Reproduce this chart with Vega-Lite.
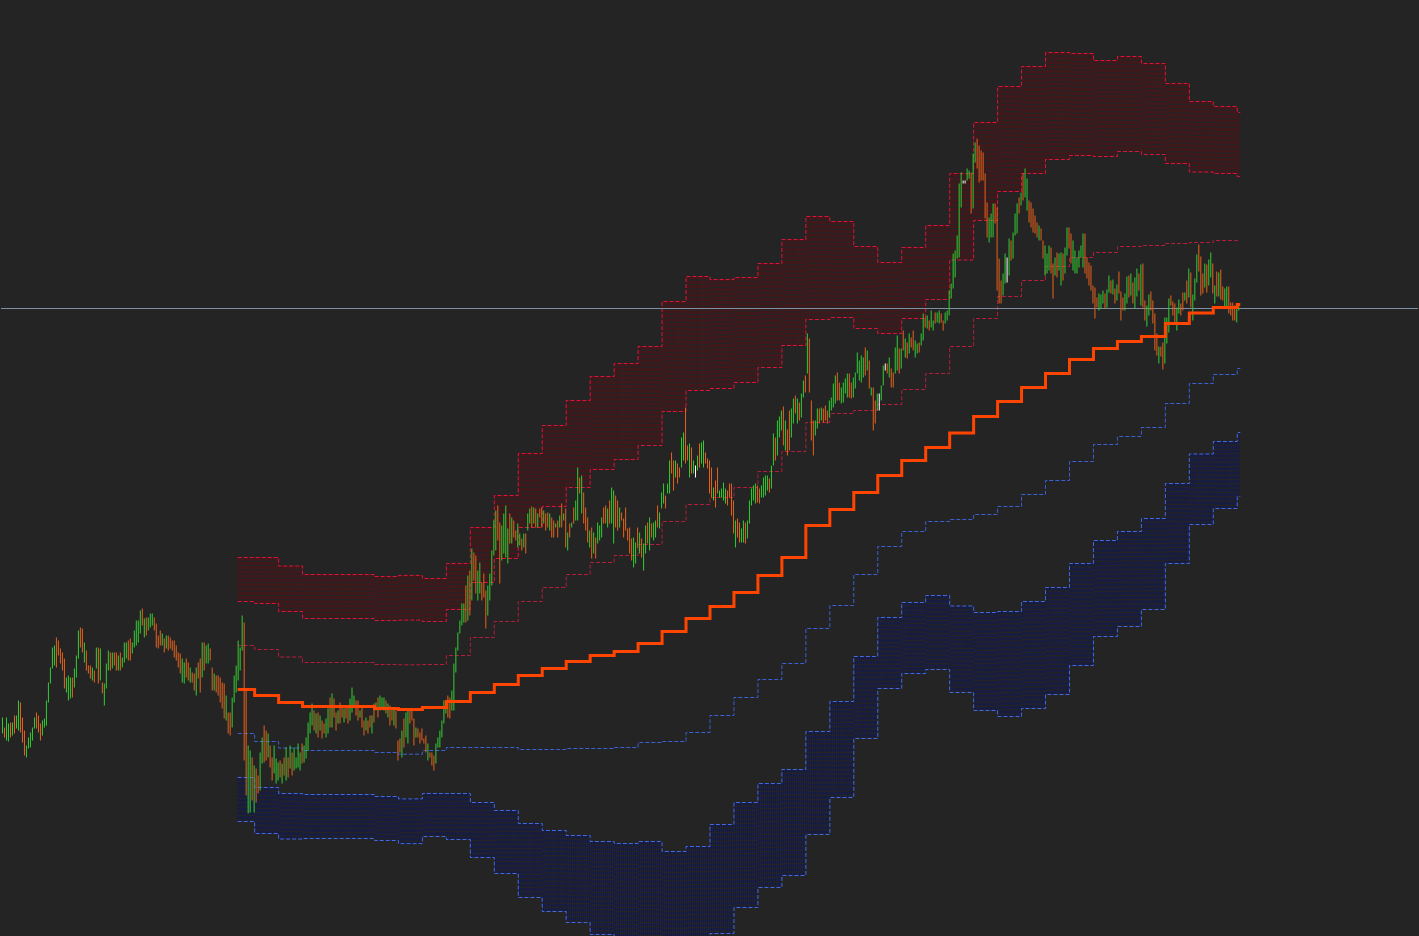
{
"$schema": "https://vega.github.io/schema/vega-lite/v6.json",
"width": 1419, "height": 936,
"autosize": {"type": "fit", "contains": "padding"},
"padding": 0,
"background": "#242424",
"config": {"view": {"stroke": null}},
"resolve": {"scale": {"color": "independent"}},
"datasets": {
"bars": "i,h,l,d,p\n0,219,203,u,\n1,209,199,d,\n2,219,196,u,\n3,213,195,u,\n4,214,199,d,\n5,214,201,u,\n6,221,203,d,\n7,221,208,u,\n8,236,206,u,\n9,234,204,d,\n10,219,194,d,\n11,206,181,d,\n12,191,179,u,\n13,199,188,u,\n14,204,189,u,\n15,209,196,u,\n16,219,208,u,\n17,224,208,d,\n18,221,204,d,\n19,213,196,d,\n20,216,201,u,\n21,218,209,u,\n22,236,211,u,\n23,254,234,u,\n24,269,253,u,\n25,289,268,u,\n26,291,271,u,\n27,299,269,d,\n28,296,281,d,\n29,288,273,d,\n30,284,266,d,\n31,278,248,d,\n32,259,244,u,\n33,261,236,u,\n34,259,238,u,\n35,259,239,d,\n36,268,249,u,\n37,281,259,u,\n38,306,278,u,\n39,309,289,d,\n40,308,284,d,\n41,294,274,u,\n42,286,266,d,\n43,271,263,d,\n44,271,258,d,\n45,269,256,u,\n46,266,254,d,\n47,289,268,u,\n48,289,253,d,\n49,288,256,u,\n50,254,243,d,\n51,253,231,u,\n52,273,248,u,\n53,286,266,u,\n54,284,266,d,\n55,284,268,u,\n56,284,271,d,\n57,284,266,d,\n58,281,266,u,\n59,284,266,d,\n60,279,269,u,\n61,294,274,u,\n62,294,278,u,\n63,296,276,d,\n64,298,276,d,\n65,294,283,u,\n66,306,289,u,\n67,316,291,u,\n68,316,294,u,\n69,326,303,u,\n70,328,311,d,\n71,318,299,u,\n72,319,301,d,\n73,319,306,u,\n74,323,309,u,\n75,323,311,u,\n76,319,306,d,\n77,313,289,d,\n78,301,288,d,\n79,306,291,d,\n80,303,291,u,\n81,298,284,d,\n82,301,288,u,\n83,301,286,d,\n84,299,288,d,\n85,296,286,d,\n86,296,279,d,\n87,291,276,d,\n88,284,269,d,\n89,283,263,d,\n90,278,254,u,\n91,274,253,u,\n92,278,259,d,\n93,274,256,d,\n94,269,254,u,\n95,264,254,d,\n96,263,246,d,\n97,269,241,u,\n98,274,258,d,\n99,278,244,d,\n100,294,259,u,\n101,294,266,d,\n102,291,273,u,\n103,293,273,u,\n104,288,276,d,\n105,269,246,d,\n106,263,246,u,\n107,261,244,d,\n108,261,241,d,\n109,259,234,d,\n110,254,228,d,\n111,253,218,d,\n112,241,216,u,\n113,224,203,d,\n114,224,201,d,\n115,239,209,u,\n116,261,234,u,\n117,271,244,u,\n118,296,256,u,1\n119,289,266,u,1\n120,321,286,u,1\n121,314,176,d,1\n122,246,141,d,1\n123,191,123,u,1\n124,186,124,u,1\n125,179,136,d,1\n126,171,124,u,1\n127,168,134,d,2\n128,161,143,d,2\n129,184,146,u,2\n130,199,173,u,2\n131,211,174,d,2\n132,206,176,d,2\n133,203,179,u,2\n134,191,169,d,2\n135,179,156,d,2\n136,191,163,u,2\n137,178,153,u,2\n138,174,156,u,2\n139,176,159,d,3\n140,173,153,u,3\n141,179,161,d,3\n142,189,156,u,3\n143,179,159,d,3\n144,191,168,u,3\n145,184,161,d,3\n146,189,166,u,3\n147,179,168,u,3\n148,193,169,u,3\n149,184,166,u,3\n150,193,173,d,3\n151,191,174,u,4\n152,199,178,u,4\n153,214,186,u,4\n154,224,203,u,4\n155,233,211,u,4\n156,226,206,d,4\n157,223,203,u,4\n158,224,199,d,4\n159,221,206,u,4\n160,216,198,d,4\n161,213,203,d,4\n162,218,199,u,4\n163,228,203,u,5\n164,239,209,d,5\n165,243,209,u,5\n166,238,219,d,5\n167,224,206,d,5\n168,226,213,u,5\n169,234,213,d,5\n170,229,219,d,5\n171,228,214,u,5\n172,231,218,d,5\n173,231,213,d,5\n174,238,216,u,5\n175,249,224,u,6\n176,241,229,u,6\n177,236,221,d,6\n178,236,216,d,6\n179,226,219,u,6\n180,229,209,d,6\n181,216,201,d,6\n182,219,206,u,6\n183,216,203,d,6\n184,221,209,d,6\n185,221,203,u,6\n186,233,214,d,6\n187,234,226,u,7\n188,239,219,d,7\n189,241,226,u,7\n190,239,229,u,7\n191,239,226,u,7\n192,236,223,d,7\n193,233,219,u,7\n194,231,211,d,7\n195,229,216,d,7\n196,229,211,u,7\n197,226,208,d,7\n198,196,176,d,7\n199,198,184,d,8\n200,206,179,u,8\n201,218,189,d,8\n202,224,199,u,8\n203,228,193,u,8\n204,226,213,d,8\n205,226,216,d,8\n206,218,191,d,8\n207,209,199,u,8\n208,208,199,d,8\n209,204,193,d,8\n210,208,196,d,8\n211,198,193,d,9\n212,201,184,d,9\n213,193,176,u,9\n214,184,179,d,9\n215,184,171,d,9\n216,181,166,d,9\n217,193,173,u,9\n218,199,189,u,9\n219,206,189,u,9\n220,216,199,u,9\n221,236,213,u,9\n222,234,223,u,9\n223,241,219,d,10\n224,239,218,d,10\n225,246,226,u,10\n226,273,226,u,10\n227,289,264,u,10\n228,304,286,u,10\n229,316,303,u,10\n230,333,311,u,10\n231,333,314,u,10\n232,351,314,d,10\n233,361,316,u,10\n234,366,321,d,10\n235,388,336,u,11\n236,384,356,d,11\n237,381,343,d,11\n238,366,336,u,11\n239,374,343,u,11\n240,354,336,d,11\n241,363,339,d,11\n242,346,308,d,11\n243,351,321,u,11\n244,363,336,u,11\n245,386,351,u,11\n246,416,381,u,11\n247,426,386,u,12\n248,431,396,d,12\n249,414,353,d,12\n250,411,376,u,12\n251,423,383,u,12\n252,431,379,u,12\n253,408,373,u,12\n254,423,393,d,12\n255,419,393,u,12\n256,416,399,d,12\n257,406,396,d,12\n258,413,389,u,12\n259,403,391,u,13\n260,398,386,d,13\n261,403,389,u,13\n262,403,383,d,13\n263,423,406,u,13\n264,428,413,u,13\n265,430,409,d,13\n266,429,413,u,13\n267,428,409,d,13\n268,423,409,u,13\n269,428,419,d,13\n270,429,409,d,13\n271,426,413,u,14\n272,423,406,d,14\n273,424,409,d,14\n274,423,406,u,14\n275,419,399,d,14\n276,416,399,d,14\n277,413,409,u,14\n278,416,399,d,14\n279,421,409,u,14\n280,433,409,d,14\n281,423,416,u,14\n282,428,389,d,14\n283,404,386,u,15\n284,413,399,d,15\n285,414,409,u,15\n286,429,413,d,15\n287,436,416,u,15\n288,469,416,u,15\n289,459,443,d,15\n290,461,423,u,15\n291,444,413,d,15\n292,429,406,d,15\n293,419,394,d,15\n294,406,389,u,15\n295,409,378,d,16\n296,404,383,u,16\n297,399,378,d,16\n298,414,393,u,16\n299,411,396,u,16\n300,419,399,u,16\n301,429,413,d,16\n302,431,413,d,16\n303,428,409,u,16\n304,436,413,d,16\n305,449,413,u,16\n306,446,393,u,16\n307,441,409,d,17\n308,436,406,d,17\n309,429,409,u,17\n310,424,416,d,17\n311,418,399,d,17\n312,429,406,d,17\n313,408,396,d,17\n314,409,383,d,17\n315,398,376,d,17\n316,399,369,u,17\n317,394,373,u,17\n318,409,389,d,17\n319,404,383,u,18\n320,398,379,d,18\n321,393,366,u,18\n322,411,383,u,18\n323,414,393,d,18\n324,419,386,u,18\n325,413,399,d,18\n326,414,396,u,18\n327,416,399,u,18\n328,431,409,d,18\n329,424,408,u,18\n330,444,428,u,18\n331,453,433,u,19\n332,441,428,d,19\n333,453,443,u,19\n334,476,443,u,19\n335,484,463,d,19\n336,476,446,d,19\n337,476,459,u,19\n338,473,453,d,19\n339,469,459,d,19\n340,499,469,u,19\n341,504,476,u,19\n342,529,473,d,19\n343,491,476,d,20\n344,493,459,u,20\n345,489,463,d,20\n346,476,463,u,20\n347,471,459,n,20\n348,481,466,u,20\n349,493,469,d,20\n350,494,473,u,20\n351,496,469,u,20\n352,484,473,d,20\n353,478,468,d,20\n354,476,443,d,20\n355,469,439,d,21\n356,449,436,u,21\n357,456,429,d,21\n358,469,443,d,21\n359,446,439,u,21\n360,448,439,u,21\n361,454,436,u,21\n362,448,433,u,21\n363,446,431,d,21\n364,453,439,d,21\n365,453,421,d,21\n366,436,403,d,21\n367,416,389,u,22\n368,418,399,d,22\n369,414,394,d,22\n370,408,394,u,22\n371,416,394,u,22\n372,414,393,d,22\n373,416,398,u,22\n374,436,413,u,22\n375,448,431,u,22\n376,451,436,u,22\n377,453,433,u,22\n378,451,434,d,22\n379,448,433,d,23\n380,451,439,u,23\n381,459,439,u,23\n382,461,441,u,23\n383,461,446,u,23\n384,458,444,d,23\n385,471,448,u,23\n386,503,471,u,23\n387,499,476,d,23\n388,516,481,u,23\n389,520,499,u,23\n390,526,506,u,23\n391,530,491,d,24\n392,516,486,u,24\n393,507,481,d,24\n394,526,486,d,24\n395,528,499,u,24\n396,538,513,u,24\n397,541,523,d,24\n398,538,513,u,24\n399,534,516,d,24\n400,543,519,u,24\n401,556,539,u,24\n402,561,544,d,24\n403,603,563,u,25\n404,598,544,d,25\n405,536,496,d,25\n406,516,481,d,25\n407,516,501,u,25\n408,528,508,u,25\n409,528,513,d,25\n410,529,516,u,25\n411,528,514,d,25\n412,531,516,d,25\n413,526,513,d,25\n414,536,519,u,25\n415,539,526,u,26\n416,553,529,u,26\n417,561,533,u,26\n418,564,536,d,26\n419,554,536,d,26\n420,549,533,u,26\n421,554,534,u,26\n422,558,543,u,26\n423,563,539,u,26\n424,563,539,d,26\n425,554,538,d,26\n426,559,539,u,26\n427,564,548,u,27\n428,584,563,u,27\n429,576,556,u,27\n430,581,554,u,27\n431,579,559,u,27\n432,589,561,d,27\n433,586,566,u,27\n434,576,548,d,27\n435,549,541,u,27\n436,549,506,d,27\n437,536,513,d,27\n438,543,526,u,27\n439,543,526,n,28\n440,551,536,u,28\n441,571,551,u,28\n442,573,566,n,28\n443,573,563,d,28\n444,579,559,u,28\n445,568,549,d,28\n446,564,549,d,28\n447,589,563,u,28\n448,601,566,u,28\n449,588,563,d,28\n450,588,568,u,28\n451,606,586,d,29\n452,598,579,u,29\n453,594,578,d,29\n454,603,583,u,29\n455,599,589,d,29\n456,606,586,d,29\n457,596,579,u,29\n458,593,583,u,29\n459,594,584,d,29\n460,603,591,u,29\n461,623,596,u,29\n462,619,609,d,29\n463,621,608,u,30\n464,616,606,d,30\n465,626,609,u,30\n466,616,606,u,30\n467,624,613,d,30\n468,624,614,u,30\n469,626,613,u,30\n470,623,614,d,30\n471,616,606,d,30\n472,624,613,u,30\n473,626,616,u,30\n474,646,621,u,30\n475,653,638,u,31\n476,683,648,u,31\n477,686,659,u,31\n478,701,678,u,31\n479,753,679,u,31\n480,764,729,u,31\n481,756,753,n,31\n482,756,753,n,31\n483,768,756,u,31\n484,766,758,u,31\n485,764,723,d,31\n486,783,728,u,31\n487,794,774,u,32\n488,798,768,d,32\n489,791,754,d,32\n490,786,756,d,32\n491,784,756,d,32\n492,763,718,d,32\n493,734,699,d,32\n494,719,694,u,32\n495,723,699,u,32\n496,733,699,u,32\n497,733,713,d,32\n498,729,646,d,32\n499,678,633,d,33\n500,656,633,d,33\n501,663,641,u,33\n502,683,653,u,33\n503,679,654,n,33\n504,698,661,u,33\n505,696,676,d,33\n506,704,678,u,33\n507,723,701,u,33\n508,733,703,u,33\n509,739,723,d,33\n510,744,731,u,33\n511,763,736,d,34\n512,768,739,u,34\n513,758,726,u,34\n514,736,714,d,34\n515,734,709,d,34\n516,728,704,d,34\n517,721,703,d,34\n518,714,699,d,34\n519,711,696,u,34\n520,708,696,d,34\n521,696,678,d,34\n522,691,661,u,34\n523,683,663,u,35\n524,691,666,u,35\n525,689,663,d,35\n526,673,638,d,35\n527,679,661,u,35\n528,684,659,d,35\n529,683,666,u,35\n530,684,651,u,35\n531,683,656,d,35\n532,689,663,u,35\n533,709,681,u,35\n534,709,688,d,35\n535,703,673,d,36\n536,696,666,u,36\n537,686,663,u,36\n538,679,663,u,36\n539,686,669,u,36\n540,691,679,u,36\n541,703,669,u,36\n542,703,663,d,36\n543,679,658,d,36\n544,674,651,d,36\n545,671,646,d,36\n546,651,633,d,36\n547,649,618,d,37\n548,639,629,d,37\n549,643,626,u,37\n550,642,628,u,37\n551,646,633,u,37\n552,643,628,d,37\n553,647,629,u,37\n554,661,644,u,37\n555,656,643,d,37\n556,657,642,u,37\n557,648,633,d,37\n558,652,636,u,37\n559,665,643,d,38\n560,645,616,d,38\n561,639,626,d,38\n562,643,626,u,38\n563,660,633,u,38\n564,661,639,d,38\n565,663,641,u,38\n566,654,633,d,38\n567,659,628,u,38\n568,668,640,u,38\n569,663,646,d,38\n570,672,631,u,38\n571,673,629,d,39\n572,636,616,d,39\n573,631,610,u,39\n574,642,621,u,39\n575,645,626,d,39\n576,636,613,d,39\n577,623,586,d,39\n578,603,581,d,39\n579,590,573,u,39\n580,590,580,d,39\n581,594,567,d,39\n582,619,573,u,39\n583,619,593,u,40\n584,638,604,u,40\n585,641,631,d,40\n586,635,621,d,40\n587,633,614,d,40\n588,629,606,u,40\n589,637,623,u,40\n590,633,621,d,40\n591,644,626,d,40\n592,644,636,u,40\n593,656,633,d,40\n594,668,639,u,40\n595,664,629,d,41\n596,642,616,u,41\n597,658,636,u,41\n598,682,654,u,41\n599,692,665,d,41\n600,680,641,d,41\n601,663,643,d,41\n602,673,649,u,41\n603,672,644,d,41\n604,677,651,u,41\n605,684,659,u,41\n606,673,643,d,41\n607,651,633,u,42\n608,665,640,d,42\n609,664,640,u,42\n610,667,637,d,42\n611,650,636,d,42\n612,648,629,u,42\n613,650,629,u,42\n614,650,623,d,42\n615,634,621,d,42\n616,634,616,d,42\n617,631,616,d,42\n618,631,614,u,42\n619,630,626,u,43",
"bands": [
{"p":1,"s":117.75,"c":247,"u1":291,"u2":335,"u3":379,"l1":203,"l2":159,"l3":115},
{"p":2,"s":126.25,"c":241,"u1":287,"u2":333,"u3":379,"l1":195,"l2":149,"l3":103},
{"p":3,"s":138.25,"c":234,"u1":279.5,"u2":325,"u3":370.5,"l1":188.5,"l2":143,"l3":97.5},
{"p":4,"s":150.25,"c":230,"u1":274,"u2":318,"u3":362,"l1":186,"l2":142,"l3":98},
{"p":5,"s":162.25,"c":230,"u1":274,"u2":318,"u3":362,"l1":186,"l2":142,"l3":98},
{"p":6,"s":174.25,"c":230,"u1":274,"u2":318,"u3":362,"l1":186,"l2":142,"l3":98},
{"p":7,"s":186.25,"c":228,"u1":272,"u2":316,"u3":360,"l1":184,"l2":140,"l3":96},
{"p":8,"s":198.25,"c":227,"u1":271.7,"u2":316.4,"u3":361.1,"l1":182.3,"l2":137.6,"l3":92.9},
{"p":9,"s":210.25,"c":229,"u1":272,"u2":315,"u3":358,"l1":186,"l2":143,"l3":100},
{"p":10,"s":222.25,"c":235,"u1":281,"u2":327,"u3":373,"l1":189,"l2":143,"l3":97},
{"p":11,"s":234.25,"c":244,"u1":299,"u2":354,"u3":409,"l1":189,"l2":134,"l3":79},
{"p":12,"s":246.25,"c":252,"u1":315,"u2":378,"u3":441,"l1":189,"l2":126,"l3":63},
{"p":13,"s":258.25,"c":261,"u1":335,"u2":409,"u3":483,"l1":187,"l2":113,"l3":39},
{"p":14,"s":270.25,"c":268,"u1":349,"u2":430,"u3":511,"l1":187,"l2":106,"l3":25},
{"p":15,"s":282.25,"c":275,"u1":362,"u2":449,"u3":536,"l1":188,"l2":101,"l3":14},
{"p":16,"s":294.25,"c":281,"u1":374,"u2":467,"u3":560,"l1":188,"l2":95,"l3":2},
{"p":17,"s":306.25,"c":285,"u1":381,"u2":477,"u3":573,"l1":189,"l2":93,"l3":-3},
{"p":18,"s":318.25,"c":293,"u1":392,"u2":491,"u3":590,"l1":194,"l2":95,"l3":-4},
{"p":19,"s":330.25,"c":305,"u1":415,"u2":525,"u3":635,"l1":195,"l2":85,"l3":-25},
{"p":20,"s":342.25,"c":318,"u1":432,"u2":546,"u3":660,"l1":204,"l2":90,"l3":-24},
{"p":21,"s":354.25,"c":330,"u1":439,"u2":548,"u3":657,"l1":221,"l2":112,"l3":3},
{"p":22,"s":366.25,"c":344,"u1":449,"u2":554,"u3":659,"l1":239,"l2":134,"l3":29},
{"p":23,"s":378.25,"c":361,"u1":465,"u2":569,"u3":673,"l1":257,"l2":153,"l3":49},
{"p":24,"s":390.25,"c":379,"u1":485,"u2":591,"u3":697,"l1":273,"l2":167,"l3":61},
{"p":25,"s":402.25,"c":411,"u1":514,"u2":617,"u3":720,"l1":308,"l2":205,"l3":102},
{"p":26,"s":414.25,"c":427,"u1":523,"u2":619,"u3":715,"l1":331,"l2":235,"l3":139},
{"p":27,"s":426.25,"c":444,"u1":526,"u2":608,"u3":690,"l1":362,"l2":280,"l3":198},
{"p":28,"s":438.25,"c":461,"u1":532,"u2":603,"u3":674,"l1":390,"l2":319,"l3":248},
{"p":29,"s":450.25,"c":476,"u1":547,"u2":618,"u3":689,"l1":405,"l2":334,"l3":263},
{"p":30,"s":462.25,"c":489,"u1":563,"u2":637,"u3":711,"l1":415,"l2":341,"l3":267},
{"p":31,"s":474.25,"c":503.5,"u1":590,"u2":676.5,"u3":763,"l1":417,"l2":330.5,"l3":244},
{"p":32,"s":486.25,"c":520,"u1":618,"u2":716,"u3":814,"l1":422,"l2":324,"l3":226},
{"p":33,"s":498.25,"c":535,"u1":640,"u2":745,"u3":850,"l1":430,"l2":325,"l3":220},
{"p":34,"s":510.25,"c":549,"u1":656,"u2":763,"u3":870,"l1":442,"l2":335,"l3":228},
{"p":35,"s":522.25,"c":563,"u1":670,"u2":777,"u3":884,"l1":456,"l2":349,"l3":242},
{"p":36,"s":534.25,"c":577,"u1":679,"u2":781,"u3":883,"l1":475,"l2":373,"l3":271},
{"p":37,"s":546.25,"c":588,"u1":684,"u2":780,"u3":876,"l1":492,"l2":396,"l3":300},
{"p":38,"s":558.25,"c":595,"u1":690,"u2":785,"u3":880,"l1":500,"l2":405,"l3":310},
{"p":39,"s":570.25,"c":600,"u1":691,"u2":782,"u3":873,"l1":509,"l2":418,"l3":327},
{"p":40,"s":582.25,"c":613,"u1":693,"u2":773,"u3":853,"l1":533,"l2":453,"l3":373},
{"p":41,"s":594.25,"c":623.5,"u1":694,"u2":764.5,"u3":835,"l1":553,"l2":482.5,"l3":412},
{"p":42,"s":606.25,"c":629,"u1":696,"u2":763,"u3":830,"l1":562,"l2":495,"l3":428},
{"p":43,"s":618.25,"c":632,"u1":696,"u2":760,"u3":824,"l1":568,"l2":504,"l3":440},
{"p":44,"s":619.75,"c":632,"u1":696,"u2":760,"u3":824,"l1":568,"l2":504,"l3":440}
],
"last": [{"price": 628}]
},
"layer": [
{
"data": {"name": "bars", "format": {"type": "csv", "parse": {"i": "number", "h": "number", "l": "number", "p": "number"}}},
"transform": [
{"lookup": "p", "from": {"data": {"values": [
{"p":1,"u2":335,"u3":379,"l2":159,"l3":115},{"p":2,"u2":333,"u3":379,"l2":149,"l3":103},{"p":3,"u2":325,"u3":370.5,"l2":143,"l3":97.5},{"p":4,"u2":318,"u3":362,"l2":142,"l3":98},{"p":5,"u2":318,"u3":362,"l2":142,"l3":98},{"p":6,"u2":318,"u3":362,"l2":142,"l3":98},{"p":7,"u2":316,"u3":360,"l2":140,"l3":96},{"p":8,"u2":316.4,"u3":361.1,"l2":137.6,"l3":92.9},{"p":9,"u2":315,"u3":358,"l2":143,"l3":100},{"p":10,"u2":327,"u3":373,"l2":143,"l3":97},{"p":11,"u2":354,"u3":409,"l2":134,"l3":79},{"p":12,"u2":378,"u3":441,"l2":126,"l3":63},{"p":13,"u2":409,"u3":483,"l2":113,"l3":39},{"p":14,"u2":430,"u3":511,"l2":106,"l3":25},{"p":15,"u2":449,"u3":536,"l2":101,"l3":14},{"p":16,"u2":467,"u3":560,"l2":95,"l3":2},{"p":17,"u2":477,"u3":573,"l2":93,"l3":-3},{"p":18,"u2":491,"u3":590,"l2":95,"l3":-4},{"p":19,"u2":525,"u3":635,"l2":85,"l3":-25},{"p":20,"u2":546,"u3":660,"l2":90,"l3":-24},{"p":21,"u2":548,"u3":657,"l2":112,"l3":3},{"p":22,"u2":554,"u3":659,"l2":134,"l3":29},{"p":23,"u2":569,"u3":673,"l2":153,"l3":49},{"p":24,"u2":591,"u3":697,"l2":167,"l3":61},{"p":25,"u2":617,"u3":720,"l2":205,"l3":102},{"p":26,"u2":619,"u3":715,"l2":235,"l3":139},{"p":27,"u2":608,"u3":690,"l2":280,"l3":198},{"p":28,"u2":603,"u3":674,"l2":319,"l3":248},{"p":29,"u2":618,"u3":689,"l2":334,"l3":263},{"p":30,"u2":637,"u3":711,"l2":341,"l3":267},{"p":31,"u2":676.5,"u3":763,"l2":330.5,"l3":244},{"p":32,"u2":716,"u3":814,"l2":324,"l3":226},{"p":33,"u2":745,"u3":850,"l2":325,"l3":220},{"p":34,"u2":763,"u3":870,"l2":335,"l3":228},{"p":35,"u2":777,"u3":884,"l2":349,"l3":242},{"p":36,"u2":781,"u3":883,"l2":373,"l3":271},{"p":37,"u2":780,"u3":876,"l2":396,"l3":300},{"p":38,"u2":785,"u3":880,"l2":405,"l3":310},{"p":39,"u2":782,"u3":873,"l2":418,"l3":327},{"p":40,"u2":773,"u3":853,"l2":453,"l3":373},{"p":41,"u2":764.5,"u3":835,"l2":482.5,"l3":412},{"p":42,"u2":763,"u3":830,"l2":495,"l3":428},{"p":43,"u2":760,"u3":824,"l2":504,"l3":440}
]}, "key": "p", "fields": ["u2", "u3", "l2", "l3"]}},
{"filter": "isValid(datum.u2)"}
],
"layer": [
{
"mark": {"type": "rule", "color": "#5e0e13", "strokeWidth": 1, "strokeDash": [3, 1.3], "clip": true},
"encoding": {
"x": {"field": "i", "type": "quantitative", "scale": {"domain": [-0.75, 708.75], "nice": false, "zero": false}, "axis": null},
"y": {"field": "u3", "type": "quantitative", "scale": {"domain": [0.5, 936.5], "nice": false, "zero": false}, "axis": null},
"y2": {"field": "u2"}
}
},
{
"mark": {"type": "rule", "color": "#0d175e", "strokeWidth": 1, "strokeDash": [3, 1.3], "clip": true},
"encoding": {
"x": {"field": "i", "type": "quantitative", "axis": null},
"y": {"field": "l2", "type": "quantitative", "axis": null},
"y2": {"field": "l3"}
}
}
]
},
{
"data": {"name": "bands"},
"transform": [{"fold": ["u1", "u2", "u3", "l1", "l2", "l3"], "as": ["band", "v"]}],
"mark": {"type": "line", "interpolate": "step-after", "strokeWidth": 1, "strokeDash": [4, 2], "clip": true},
"encoding": {
"x": {"field": "s", "type": "quantitative", "axis": null},
"y": {"field": "v", "type": "quantitative", "axis": null},
"color": {"field": "band", "type": "nominal", "legend": null,
"scale": {"domain": ["u1", "u2", "u3", "l1", "l2", "l3"], "range": ["#b21e3b", "#dc143c", "#dc143c", "#3a60d4", "#4169e1", "#4169e1"]}}
}
},
{
"data": {"name": "last"},
"mark": {"type": "rule", "color": "#7e8fa3", "strokeWidth": 1},
"encoding": {"y": {"field": "price", "type": "quantitative", "axis": null}}
},
{
"data": {"name": "bars", "format": {"type": "csv", "parse": {"i": "number", "h": "number", "l": "number", "p": "number"}}},
"mark": {"type": "rule", "strokeWidth": 1, "clip": true},
"encoding": {
"x": {"field": "i", "type": "quantitative", "axis": null},
"y": {"field": "h", "type": "quantitative", "axis": null},
"y2": {"field": "l"},
"color": {"field": "d", "type": "nominal", "legend": null,
"scale": {"domain": ["u", "d", "n"], "range": ["#32cd32", "#e8621c", "#ffffff"]}}
}
},
{
"data": {"name": "bands"},
"mark": {"type": "line", "interpolate": "step-after", "strokeWidth": 3, "color": "#ff4500", "clip": true},
"encoding": {
"x": {"field": "s", "type": "quantitative", "axis": null},
"y": {"field": "c", "type": "quantitative", "axis": null}
}
}
]
}
